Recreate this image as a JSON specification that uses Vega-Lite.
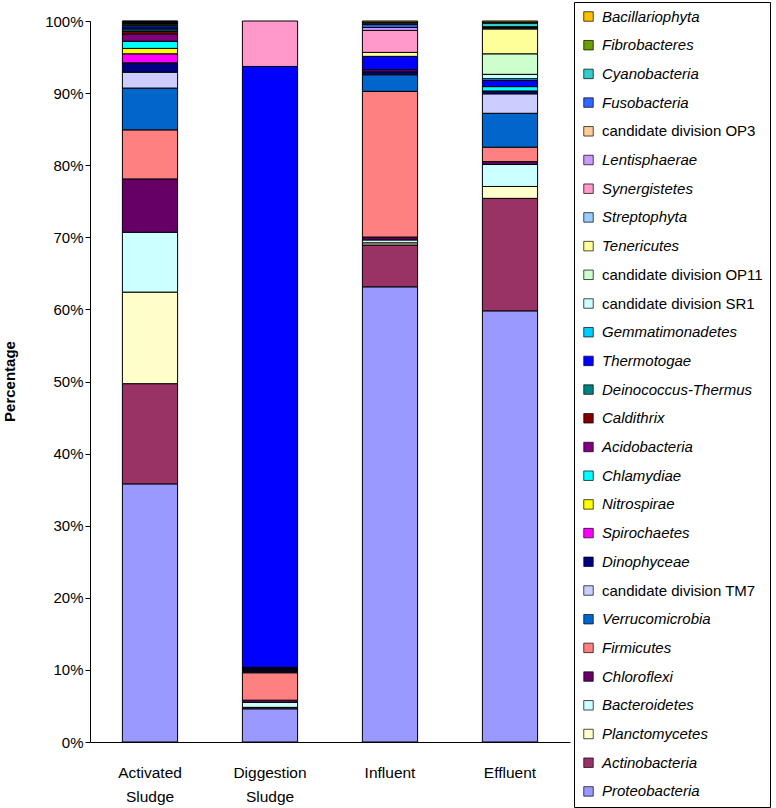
{
  "$schema": "https://vega.github.io/schema/vega-lite/v6.json",
  "width": 480,
  "height": 721,
  "autosize": {"type": "none"},
  "padding": {"left": 90, "top": 21, "right": 206, "bottom": 66},
  "background": "white",
  "config": {
    "font": "Liberation Sans",
    "view": {"stroke": null},
    "axis": {"grid": false, "domainColor": "#000000", "tickColor": "#000000", "labelColor": "#000000", "titleColor": "#000000"}
  },
  "data": {
    "values": [
      {"sample": "Activated Sludge", "phylum": "Proteobacteria", "value": 35.8},
      {"sample": "Activated Sludge", "phylum": "Actinobacteria", "value": 13.9},
      {"sample": "Activated Sludge", "phylum": "Planctomycetes", "value": 12.7},
      {"sample": "Activated Sludge", "phylum": "Bacteroidetes", "value": 8.3},
      {"sample": "Activated Sludge", "phylum": "Chloroflexi", "value": 7.4},
      {"sample": "Activated Sludge", "phylum": "Firmicutes", "value": 6.8},
      {"sample": "Activated Sludge", "phylum": "Verrucomicrobia", "value": 5.8},
      {"sample": "Activated Sludge", "phylum": "candidate division TM7", "value": 2.2},
      {"sample": "Activated Sludge", "phylum": "Dinophyceae", "value": 1.3},
      {"sample": "Activated Sludge", "phylum": "Spirochaetes", "value": 1.25},
      {"sample": "Activated Sludge", "phylum": "Nitrospirae", "value": 0.75},
      {"sample": "Activated Sludge", "phylum": "Chlamydiae", "value": 1.0},
      {"sample": "Activated Sludge", "phylum": "Acidobacteria", "value": 1.0},
      {"sample": "Activated Sludge", "phylum": "Caldithrix", "value": 0.4},
      {"sample": "Activated Sludge", "phylum": "Deinococcus-Thermus", "value": 0.3},
      {"sample": "Activated Sludge", "phylum": "Thermotogae", "value": 0.3},
      {"sample": "Activated Sludge", "phylum": "Gemmatimonadetes", "value": 0.2},
      {"sample": "Activated Sludge", "phylum": "candidate division SR1", "value": 0.15},
      {"sample": "Activated Sludge", "phylum": "candidate division OP11", "value": 0.1},
      {"sample": "Activated Sludge", "phylum": "Tenericutes", "value": 0.1},
      {"sample": "Activated Sludge", "phylum": "Streptophyta", "value": 0.05},
      {"sample": "Activated Sludge", "phylum": "Synergistetes", "value": 0.1},
      {"sample": "Activated Sludge", "phylum": "Lentisphaerae", "value": 0.05},
      {"sample": "Activated Sludge", "phylum": "Cyanobacteria", "value": 0.05},
      {"sample": "Diggestion Sludge", "phylum": "Proteobacteria", "value": 4.6},
      {"sample": "Diggestion Sludge", "phylum": "Actinobacteria", "value": 0.2},
      {"sample": "Diggestion Sludge", "phylum": "Bacteroidetes", "value": 0.7},
      {"sample": "Diggestion Sludge", "phylum": "Chloroflexi", "value": 0.3},
      {"sample": "Diggestion Sludge", "phylum": "Firmicutes", "value": 3.8},
      {"sample": "Diggestion Sludge", "phylum": "Verrucomicrobia", "value": 0.15},
      {"sample": "Diggestion Sludge", "phylum": "candidate division TM7", "value": 0.1},
      {"sample": "Diggestion Sludge", "phylum": "Dinophyceae", "value": 0.2},
      {"sample": "Diggestion Sludge", "phylum": "Spirochaetes", "value": 0.05},
      {"sample": "Diggestion Sludge", "phylum": "Acidobacteria", "value": 0.1},
      {"sample": "Diggestion Sludge", "phylum": "Deinococcus-Thermus", "value": 0.15},
      {"sample": "Diggestion Sludge", "phylum": "Thermotogae", "value": 83.3},
      {"sample": "Diggestion Sludge", "phylum": "Synergistetes", "value": 6.3},
      {"sample": "Influent", "phylum": "Proteobacteria", "value": 63.1},
      {"sample": "Influent", "phylum": "Actinobacteria", "value": 5.8},
      {"sample": "Influent", "phylum": "Planctomycetes", "value": 0.3},
      {"sample": "Influent", "phylum": "Bacteroidetes", "value": 0.4},
      {"sample": "Influent", "phylum": "Chloroflexi", "value": 0.4},
      {"sample": "Influent", "phylum": "Firmicutes", "value": 20.2},
      {"sample": "Influent", "phylum": "Verrucomicrobia", "value": 2.3},
      {"sample": "Influent", "phylum": "Dinophyceae", "value": 0.4},
      {"sample": "Influent", "phylum": "Acidobacteria", "value": 0.3},
      {"sample": "Influent", "phylum": "Thermotogae", "value": 1.85},
      {"sample": "Influent", "phylum": "Tenericutes", "value": 0.55},
      {"sample": "Influent", "phylum": "Synergistetes", "value": 3.05},
      {"sample": "Influent", "phylum": "Lentisphaerae", "value": 0.4},
      {"sample": "Influent", "phylum": "Fusobacteria", "value": 0.4},
      {"sample": "Influent", "phylum": "Cyanobacteria", "value": 0.2},
      {"sample": "Influent", "phylum": "Fibrobacteres", "value": 0.15},
      {"sample": "Influent", "phylum": "Bacillariophyta", "value": 0.15},
      {"sample": "Effluent", "phylum": "Proteobacteria", "value": 59.8},
      {"sample": "Effluent", "phylum": "Actinobacteria", "value": 15.6},
      {"sample": "Effluent", "phylum": "Planctomycetes", "value": 1.65},
      {"sample": "Effluent", "phylum": "Bacteroidetes", "value": 3.05},
      {"sample": "Effluent", "phylum": "Chloroflexi", "value": 0.4},
      {"sample": "Effluent", "phylum": "Firmicutes", "value": 2.0},
      {"sample": "Effluent", "phylum": "Verrucomicrobia", "value": 4.7},
      {"sample": "Effluent", "phylum": "candidate division TM7", "value": 2.7},
      {"sample": "Effluent", "phylum": "Dinophyceae", "value": 0.4},
      {"sample": "Effluent", "phylum": "Chlamydiae", "value": 0.6},
      {"sample": "Effluent", "phylum": "Thermotogae", "value": 0.85},
      {"sample": "Effluent", "phylum": "Gemmatimonadetes", "value": 0.25},
      {"sample": "Effluent", "phylum": "candidate division SR1", "value": 0.6},
      {"sample": "Effluent", "phylum": "candidate division OP11", "value": 2.85},
      {"sample": "Effluent", "phylum": "Tenericutes", "value": 3.45},
      {"sample": "Effluent", "phylum": "Streptophyta", "value": 0.1},
      {"sample": "Effluent", "phylum": "Synergistetes", "value": 0.1},
      {"sample": "Effluent", "phylum": "Fusobacteria", "value": 0.1},
      {"sample": "Effluent", "phylum": "Cyanobacteria", "value": 0.5},
      {"sample": "Effluent", "phylum": "Fibrobacteres", "value": 0.15},
      {"sample": "Effluent", "phylum": "Bacillariophyta", "value": 0.15}
    ]
  },
  "transform": [
    {"calculate": "indexof(['Bacillariophyta','Fibrobacteres','Cyanobacteria','Fusobacteria','candidate division OP3','Lentisphaerae','Synergistetes','Streptophyta','Tenericutes','candidate division OP11','candidate division SR1','Gemmatimonadetes','Thermotogae','Deinococcus-Thermus','Caldithrix','Acidobacteria','Chlamydiae','Nitrospirae','Spirochaetes','Dinophyceae','candidate division TM7','Verrucomicrobia','Firmicutes','Chloroflexi','Bacteroidetes','Planctomycetes','Actinobacteria','Proteobacteria'], datum.phylum)", "as": "rank"}
  ],
  "mark": {"type": "bar", "stroke": "#000000", "strokeWidth": 1},
  "encoding": {
    "x": {
      "field": "sample",
      "type": "nominal",
      "sort": ["Activated Sludge", "Diggestion Sludge", "Influent", "Effluent"],
      "scale": {"paddingInner": 0.54, "paddingOuter": 0.27},
      "axis": {
        "title": null,
        "labelAngle": 0,
        "labelExpr": "split(datum.label, ' ')",
        "labelFontSize": 15.5,
        "labelLineHeight": 24,
        "labelPadding": 23,
        "ticks": false,
        "labelBaseline": "top"
      }
    },
    "y": {
      "field": "value",
      "type": "quantitative",
      "stack": "normalize",
      "scale": {"domain": [0, 1], "nice": false},
      "axis": {
        "title": "Percentage",
        "titleFontSize": 15,
        "titleFontWeight": "bold",
        "titleX": -73,
        "titleY": 360,
        "format": ".0%",
        "values": [0, 0.1, 0.2, 0.3, 0.4, 0.5, 0.6, 0.7, 0.8, 0.9, 1.0],
        "labelFontSize": 15,
        "tickSize": 5,
        "labelPadding": 2
      }
    },
    "color": {
      "field": "phylum",
      "type": "nominal",
      "scale": {
        "domain": ["Bacillariophyta","Fibrobacteres","Cyanobacteria","Fusobacteria","candidate division OP3","Lentisphaerae","Synergistetes","Streptophyta","Tenericutes","candidate division OP11","candidate division SR1","Gemmatimonadetes","Thermotogae","Deinococcus-Thermus","Caldithrix","Acidobacteria","Chlamydiae","Nitrospirae","Spirochaetes","Dinophyceae","candidate division TM7","Verrucomicrobia","Firmicutes","Chloroflexi","Bacteroidetes","Planctomycetes","Actinobacteria","Proteobacteria"],
        "range": ["#FFC000","#6B9E00","#33CCCC","#3366FF","#FFCC99","#CC99FF","#FF99CC","#99CCFF","#FFFF99","#CCFFCC","#CCFFFF","#00CCFF","#0000FF","#008080","#800000","#800080","#00FFFF","#FFFF00","#FF00FF","#000080","#CCCCFF","#0066CC","#FF8080","#660066","#CCFFFF","#FFFFCC","#993366","#9999FF"]
      },
      "legend": {
        "title": null,
        "orient": "none",
        "legendX": 484,
        "legendY": -19,
        "padding": 7,
        "strokeColor": "#000000",
        "fillColor": "#FFFFFF",
        "symbolType": "square",
        "symbolSize": 90,
        "symbolStrokeColor": "#000000",
        "symbolStrokeWidth": 0.7,
        "labelFontSize": 15,
        "labelColor": "#000000",
        "labelOffset": 6,
        "labelLimit": 300,
        "clipHeight": 15,
        "rowPadding": 12.7,
        "encode": {
          "labels": {
            "update": {
              "fontStyle": {"signal": "indexof(datum.label, 'candidate') === 0 ? 'normal' : 'italic'"}
            }
          }
        }
      }
    },
    "order": {"field": "rank", "type": "quantitative", "sort": "descending"}
  }
}
